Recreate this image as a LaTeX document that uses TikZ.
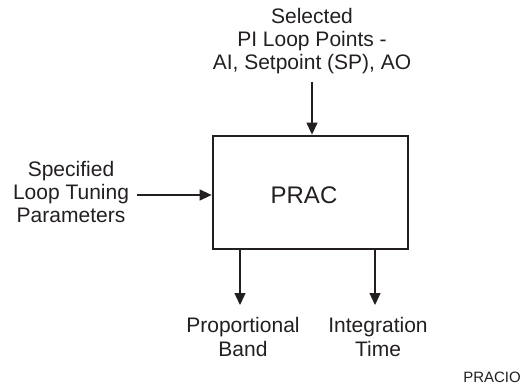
\documentclass[tikz,border=0pt]{standalone}
\usepackage{fontspec}
\setmainfont{Liberation Sans}
\usetikzlibrary{arrows.meta}
\definecolor{ink}{HTML}{231F20}
\tikzset{
  lbl/.style={align=center, inner sep=0pt, text=ink, font=\fontsize{21}{23.3}\selectfont},
  arr/.style={draw=ink, line width=1.3pt, -{Triangle[length=12pt,width=11pt]}},
  boxst/.style={draw=ink, line width=2.8pt, minimum width=195pt, minimum height=113pt, inner sep=0pt}
}
\begin{document}
\begin{tikzpicture}[x=1pt,y=-1pt]
\useasboundingbox (0,0) rectangle (527,385);
\node[boxst] (prac) at (310.5,192.5) {};
\node[inner sep=0pt, text=ink, font=\fontsize{24}{28}\selectfont] (pracl) at (304,195) {PRAC};
\node[lbl, anchor=base] (sel) at (312,70) {Selected\\PI Loop Points -\\AI, Setpoint (SP), AO};
\node[lbl, anchor=base] (spec) at (71,222.7) {Specified\\Loop Tuning\\Parameters};
\node[lbl, anchor=base] (pb) at (243,356) {Proportional\\Band};
\node[lbl, anchor=base] (it) at (378,356) {Integration\\Time};
\node[inner sep=0pt, text=ink, font=\fontsize{15}{18}\selectfont, anchor=base east] (code) at (521,382) {PRACIO};
\coordinate (topsrc) at (312,82);
\coordinate (leftsrc) at (137,195);
\coordinate (pbend) at (240,305);
\coordinate (itend) at (375,305);
\draw[arr] (topsrc) -- (prac.north -| topsrc);
\draw[arr] (leftsrc) -- (prac.west |- leftsrc);
\draw[arr] (prac.south -| pbend) -- (pbend);
\draw[arr] (prac.south -| itend) -- (itend);
\end{tikzpicture}
\end{document}
